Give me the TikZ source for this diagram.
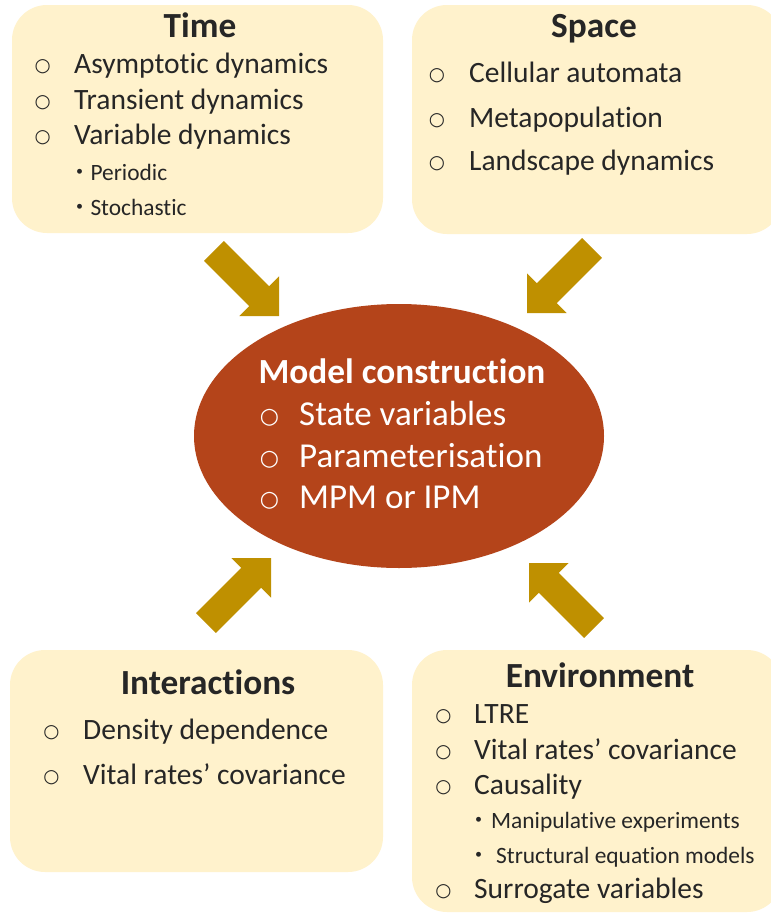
\documentclass[tikz,border=0pt]{standalone}
\usepackage{fontspec}
\setmainfont{Carlito}[RawFeature={-liga;-clig;-rlig;-dlig;-calt}]
\newfontfamily\ringfont{DejaVu Sans}
\newfontfamily\middotfont{Noto Sans CJK JP}
\usetikzlibrary{shapes.geometric}

\definecolor{panelfill}{HTML}{FFF2CC}
\definecolor{ink}{HTML}{262626}
\definecolor{hub}{HTML}{B4441A}
\definecolor{gold}{HTML}{BF9000}

\tikzset{
  panel/.style={fill=panelfill, rounded corners=35pt, inner sep=0pt, draw=none},
  heading/.style={anchor=base, inner sep=0pt, text=ink, font=\fontsize{35.3}{40}\selectfont\bfseries},
  item/.style={anchor=base west, inner sep=0pt, text=ink, font=\fontsize{29.5}{35}\selectfont},
  ringbul/.style={anchor=base, inner sep=0pt, yshift=1.5pt, text=ink, font=\ringfont\fontsize{18.5}{22}\selectfont},
  subitem/.style={anchor=base west, inner sep=0pt, text=ink, font=\fontsize{23.4}{28}\selectfont},
  subbul/.style={anchor=base, inner sep=0pt, text=ink, font=\middotfont\fontsize{23}{28}\selectfont},
  hubhead/.style={anchor=base, inner sep=0pt, text=white, font=\fontsize{35.3}{40}\selectfont\bfseries},
  hubitem/.style={anchor=base west, inner sep=0pt, text=white, font=\fontsize{35}{40}\selectfont},
  hubring/.style={anchor=base, inner sep=0pt, yshift=2pt, text=white, font=\ringfont\fontsize{22}{26}\selectfont},
  blockarrow/.pic={
    \fill[gold] (0,0) -- (-28,-28) -- (-28,-14) -- (-92,-14) -- (-92,14)
      -- (-28,14) -- (-28,28) -- cycle;
  }
}

\begin{document}
\begin{tikzpicture}[x=1pt, y=-1pt]
  \fill[white] (0,0) rectangle (771,913);
  \useasboundingbox (0,0) rectangle (771,913);

  % four theme panels
  \node[panel, minimum width=371pt, minimum height=228pt] (time) at (197.5,119) {};
  \node[panel, minimum width=370pt, minimum height=229pt] (space) at (597,119.5) {};
  \node[panel, minimum width=373pt, minimum height=222pt] (inter) at (196.5,761) {};
  \node[panel, minimum width=370pt, minimum height=262pt] (env) at (597,781) {};

  % central ellipse
  \node[ellipse, fill=hub, inner sep=0pt, minimum width=410pt, minimum height=264pt] (hub) at (399,436) {};

  % block arrows pointing to the centre
  \pic[rotate=-45] (arrTL) at (279,316) {blockarrow};
  \pic[rotate=-135] (arrTR) at (527,313) {blockarrow};
  \pic[rotate=45] (arrBL) at (271,558) {blockarrow};
  \pic[rotate=135] (arrBR) at (529,563) {blockarrow};

  % Time
  \node[heading] (timeH) at (200,37) {Time};
  \node[ringbul] (timeB1) at (42.7,73) {○};
  \node[ringbul] (timeB2) at (42.7,109) {○};
  \node[ringbul] (timeB3) at (42.7,144) {○};
  \node[item] (timeI1) at (74,73) {Asymptotic dynamics};
  \node[item] (timeI2) at (74,109) {Transient dynamics};
  \node[item] (timeI3) at (74,144) {Variable dynamics};
  \node[subbul] (timeD1) at (80,180) {・};
  \node[subbul] (timeD2) at (80,215) {・};
  \node[subitem] (timeS1) at (90.3,180) {Periodic};
  \node[subitem] (timeS2) at (90.3,215) {Stochastic};

  % Space
  \node[heading] (spaceH) at (594,37) {Space};
  \node[ringbul] (spaceB1) at (437,82) {○};
  \node[ringbul] (spaceB2) at (437,127) {○};
  \node[ringbul] (spaceB3) at (437,170) {○};
  \node[item] (spaceI1) at (469,82) {Cellular automata};
  \node[item] (spaceI2) at (469,127) {Metapopulation};
  \node[item] (spaceI3) at (469,170) {Landscape dynamics};

  % Interactions
  \node[heading] (interH) at (208,694) {Interactions};
  \node[ringbul] (interB1) at (51.5,739) {○};
  \node[ringbul] (interB2) at (51.5,784) {○};
  \node[item] (interI1) at (83,739) {Density dependence};
  \node[item] (interI2) at (83,784) {Vital rates’ covariance};

  % Environment
  \node[heading] (envH) at (600,687) {Environment};
  \node[ringbul] (envB1) at (443.5,723) {○};
  \node[ringbul] (envB2) at (443.5,759) {○};
  \node[ringbul] (envB3) at (443.5,794) {○};
  \node[ringbul] (envB4) at (443.5,898) {○};
  \node[item] (envI1) at (474,723) {LTRE};
  \node[item] (envI2) at (474,759) {Vital rates’ covariance};
  \node[item] (envI3) at (474,794) {Causality};
  \node[item] (envI4) at (474,898) {Surrogate variables};
  \node[subbul] (envD1) at (479,828) {・};
  \node[subbul] (envD2) at (479,863) {・};
  \node[subitem] (envS1) at (491,828) {Manipulative experiments};
  \node[subitem] (envS2) at (496,863) {Structural equation models};

  % Model construction
  \node[hubhead] (hubH) at (402,383) {Model construction};
  \node[hubring] (hubB1) at (269.5,425) {○};
  \node[hubring] (hubB2) at (269.5,467) {○};
  \node[hubring] (hubB3) at (269.5,508) {○};
  \node[hubitem] (hubI1) at (299,425) {State variables};
  \node[hubitem] (hubI2) at (299,467) {Parameterisation};
  \node[hubitem] (hubI3) at (299,508) {MPM or IPM};
\end{tikzpicture}
\end{document}
